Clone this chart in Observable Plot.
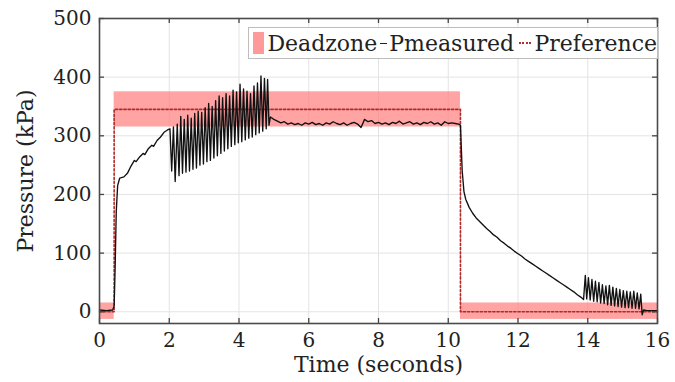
<!DOCTYPE html>
<html>
<head>
<meta charset="utf-8">
<script src="https://cdn.jsdelivr.net/npm/d3@7"></script>
<script src="https://cdn.jsdelivr.net/npm/@observablehq/plot@0.6"></script>
<style>
  html, body { margin: 0; padding: 0; background: #fff; }
  #wrap { position: relative; width: 675px; height: 382px; font-family: "DejaVu Serif", serif; }
  #legend { position: absolute; left: 248px; top: 27px; width: 408px; height: 30px; border: 1px solid #bdbdbd; background: #fff;
    display: flex; align-items: center; font-size: 22px; color: #222; white-space: nowrap; overflow: hidden; }
  .sw { display: inline-block; }
</style>
</head>
<body>
<div id="wrap">
  <div id="chart"></div>
  <div id="legend">
    <span class="sw" style="width:13px;height:22px;background:#ff9a9a;margin-left:4px;margin-right:3px"></span>Deadzone<span class="sw" style="width:8px;height:0;border-top:1.5px solid #222;margin:0 2px 0 3px"></span>Pmeasured<span class="sw" style="width:14px;height:0;border-top:2px dotted #b03030;margin:0 3px 0 5px"></span>Preference
  </div>
</div>
<script>
// ---- data ----
const xTicks = [0, 2, 4, 6, 8, 10, 12, 14, 16];
const yTicks = [0, 100, 200, 300, 400, 500];

// Preference (reference pressure) step
const refTime = [0, 0.42, 0.42, 10.35, 10.35, 16];
const refPressure = [0, 0, 345, 345, 0, 0];

// Deadzone bands
const dzStart = [0, 0.42, 10.35];
const dzEnd = [0.42, 10.35, 16];
const dzLow = [-13, 315, -13];
const dzHigh = [15, 375, 15];

// Measured pressure
const measTime = [
  0, 0.2, 0.38, 0.42, 0.45, 0.48, 0.52, 0.58, 0.7, 0.8, 0.9, 1.0, 1.05, 1.15, 1.25, 1.3, 1.4, 1.5, 1.55, 1.65, 1.75, 1.85, 1.95, 2.02,
  2.07, 2.12, 2.17, 2.23, 2.28, 2.33, 2.38, 2.43, 2.48, 2.53, 2.58, 2.63, 2.68, 2.73, 2.78, 2.83, 2.88, 2.93, 2.98, 3.03,
  3.08, 3.13, 3.18, 3.23, 3.28, 3.33, 3.38, 3.43, 3.48, 3.53, 3.58, 3.63, 3.68, 3.73, 3.78, 3.83, 3.88, 3.93, 3.98, 4.03,
  4.08, 4.13, 4.18, 4.23, 4.28, 4.33, 4.38, 4.43, 4.48, 4.53, 4.58, 4.63, 4.68, 4.73, 4.78, 4.82, 4.86,
  4.9, 5.0, 5.1, 5.2, 5.3, 5.4, 5.5, 5.6, 5.7, 5.8, 5.9, 6.0, 6.1, 6.2, 6.3, 6.4, 6.5, 6.6, 6.7, 6.8, 6.9, 7.0,
  7.1, 7.2, 7.3, 7.4, 7.5, 7.6, 7.7, 7.8, 7.9, 8.0, 8.1, 8.2, 8.3, 8.4, 8.5, 8.6, 8.7, 8.8, 8.9, 9.0,
  9.1, 9.2, 9.3, 9.4, 9.5, 9.6, 9.7, 9.8, 9.9, 10.0, 10.1, 10.2, 10.3, 10.35,
  10.4, 10.45, 10.5, 10.6, 10.7, 10.8, 10.9, 11.0, 11.1, 11.2, 11.3, 11.4, 11.5, 11.6, 11.7, 11.8, 11.9, 12.0,
  12.1, 12.2, 12.3, 12.4, 12.5, 12.6, 12.7, 12.8, 12.9, 13.0, 13.1, 13.2, 13.3, 13.4, 13.5, 13.6, 13.7, 13.8, 13.88,
  13.93, 13.97, 14.02, 14.07, 14.12, 14.17, 14.22, 14.27, 14.32, 14.37, 14.42, 14.47, 14.52, 14.57, 14.62, 14.67,
  14.72, 14.77, 14.82, 14.87, 14.92, 14.97, 15.02, 15.07, 15.12, 15.17, 15.22, 15.27, 15.32, 15.37, 15.42, 15.47,
  15.52, 15.56, 15.6, 15.7, 16
];
const measPressure = [
  3, 2, 3, 10, 80, 170, 215, 228, 230, 236, 248, 258, 256, 264, 270, 268, 278, 284, 282, 292, 298, 306, 310, 312,
  240, 315, 222, 320, 232, 333, 236, 328, 238, 335, 240, 330, 243, 338, 245, 342, 250, 340, 252, 348,
  256, 355, 258, 350, 262, 360, 266, 368, 270, 365, 274, 372, 278, 368, 282, 378, 285, 375, 288, 388,
  290, 380, 293, 376, 296, 372, 298, 385, 302, 390, 305, 402, 308, 398, 312, 396, 318,
  332, 328, 325, 322, 324, 320, 322, 319, 321, 318, 322, 320, 323, 319, 321, 318, 322, 320, 324, 321, 319, 322,
  318, 321, 323, 320, 314, 328, 324, 326, 321, 323, 320, 322, 319, 323, 321, 325, 320, 322, 324, 320,
  322, 319, 323, 321, 324, 320, 322, 318, 324, 321, 322, 321, 320, 318,
  240, 205, 192, 178, 168, 160, 154, 148, 142, 137, 131, 127, 121, 117, 112, 108, 103, 99,
  95, 90, 86, 82, 78, 74, 70, 66, 62, 58, 54, 50, 46, 42, 38, 34, 29, 25, 21,
  62, 22, 58, 20, 55, 18, 52, 17, 50, 15, 46, 14, 44, 12, 45, 11,
  42, 10, 40, 9, 38, 8, 36, 7, 35, 7, 34, 6, 35, 6, 32, 5,
  30, -5, 3, 2, 2
];

const measured = measTime.map((t, i) => ({t, p: measPressure[i]}));
const reference = refTime.map((t, i) => ({t, p: refPressure[i]}));
const deadzone = dzStart.map((s, i) => ({x1: s, x2: dzEnd[i], y1: dzLow[i], y2: dzHigh[i]}));

const xDomain = [0, 16], yDomain = [-20, 500];
const W = 675, H = 382, mL = 99, mR = 18, mT = 18, mB = 59;
// tick length of 5px expressed through the scales
const xs = d3.scaleLinear(xDomain, [mL, W - mR]);
const ys = d3.scaleLinear(yDomain, [H - mB, mT]);
const tx = xs.invert(mL + 5) - xDomain[0];
const ty = yDomain[0] - ys.invert(H - mB + 5);

const chart = Plot.plot({
  width: W, height: H,
  marginLeft: mL, marginRight: mR, marginTop: mT, marginBottom: mB,
  style: {fontFamily: "DejaVu Serif", fontSize: "19px", color: "#222", background: "#fff"},
  x: {domain: xDomain, ticks: xTicks},
  y: {domain: yDomain, ticks: yTicks},
  marks: [
    Plot.ruleX(xTicks, {stroke: "#e3e3e3", strokeWidth: 1}),
    Plot.ruleY(yTicks, {stroke: "#e3e3e3", strokeWidth: 1}),
    Plot.rect(deadzone, {x1: "x1", x2: "x2", y1: "y1", y2: "y2", fill: "#ff8080", fillOpacity: 0.72}),
    Plot.line(reference, {x: "t", y: "p", stroke: "#b02a2a", strokeWidth: 1.6, strokeDasharray: "2.2,2"}),
    Plot.line(measured, {x: "t", y: "p", stroke: "#111", strokeWidth: 1.35, curve: "linear"}),
    Plot.ruleX(xTicks, {x: d => d, y1: yDomain[0], y2: yDomain[0] + ty, stroke: "#444", strokeWidth: 1.3}),
    Plot.ruleX(xTicks, {x: d => d, y1: yDomain[1], y2: yDomain[1] - ty, stroke: "#444", strokeWidth: 1.3}),
    Plot.ruleY(yTicks, {y: d => d, x1: xDomain[0], x2: xDomain[0] + tx, stroke: "#444", strokeWidth: 1.3}),
    Plot.ruleY(yTicks, {y: d => d, x1: xDomain[1], x2: xDomain[1] - tx, stroke: "#444", strokeWidth: 1.3}),
    Plot.frame({stroke: "#4a4a4a", strokeWidth: 1.6}),
    Plot.axisX(xTicks, {tickSize: 0, tickPadding: 9, fontSize: 20, label: null}),
    Plot.axisY(yTicks, {tickSize: 0, tickPadding: 8, fontSize: 20, label: null}),
    Plot.text(["Time (seconds)"], {frameAnchor: "bottom", dy: 48, fontSize: 22, fill: "#222"}),
    Plot.text(["Pressure (kPa)"], {frameAnchor: "left", textAnchor: "middle", dx: -74, dy: 0, rotate: -90, fontSize: 22, fill: "#222"})
  ]
});
document.getElementById("chart").appendChild(chart);
</script>
</body>
</html>
